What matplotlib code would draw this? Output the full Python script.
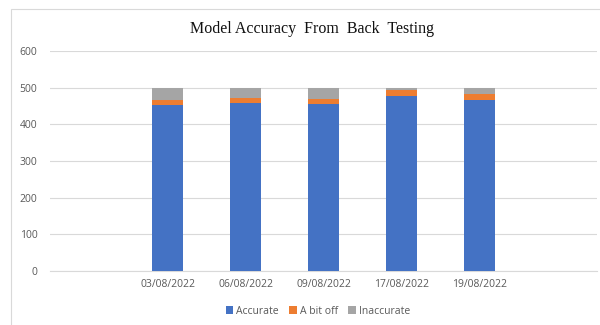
import matplotlib.pyplot as plt
from matplotlib.patches import Rectangle
import numpy as np

# data
dates = ['03/08/2022', '06/08/2022', '09/08/2022', '17/08/2022', '19/08/2022']
accurate = [452, 459, 455, 476, 467]
bit_off = [15, 12, 15, 17, 17]
inaccurate = [33, 29, 30, 7, 16]

plt.rcParams['font.family'] = ['Open Sans', 'DejaVu Sans']

fig = plt.figure(figsize=(6, 3.25), dpi=100)
ax = fig.add_axes([50/600, 54/325, 547/600, 220/325])

x = np.arange(len(dates))
w = 0.4
acc = np.array(accurate)
off = np.array(bit_off)
ax.bar(x, acc, w, color='#4472C4', label='Accurate', zorder=3)
ax.bar(x, off, w, bottom=acc, color='#ED7D31', label='A bit off', zorder=3)
ax.bar(x, inaccurate, w, bottom=acc + off, color='#A5A5A5', label='Inaccurate', zorder=3)

ax.set_xlim(-1.51, 5.51)
ax.set_ylim(0, 600)
ax.set_yticks(range(0, 601, 100))
ax.set_xticks(x)
ax.set_xticklabels(dates)
ax.grid(axis='y', color='#D9D9D9', linewidth=0.8, zorder=0)
for s in ['top', 'right', 'left']:
    ax.spines[s].set_visible(False)
ax.spines['bottom'].set_color('#D9D9D9')
ax.tick_params(axis='both', length=0, labelsize=7.5, labelcolor='#595959')
ax.tick_params(axis='y', pad=9)
ax.tick_params(axis='x', pad=6)

fig.text(0.52, 0.912, 'Model Accuracy  From  Back  Testing', family='Liberation Serif',
         fontsize=11.5, ha='center', va='center', color='#111111')

fig.legend(loc='center', bbox_to_anchor=(0.53, 0.043), ncol=3, frameon=False,
           fontsize=7.5, handlelength=0.7, handleheight=0.7, handletextpad=0.3,
           columnspacing=1.0, labelcolor='#595959')

# chart border, cut by the screenshot on the right and bottom
fig.patches.append(Rectangle((11/600, -0.1), 1.1, (325 - 9)/325 + 0.1,
                             transform=fig.transFigure, fill=False,
                             edgecolor='#D9D9D9', linewidth=0.8))

fig.savefig('out.png', dpi=100)
